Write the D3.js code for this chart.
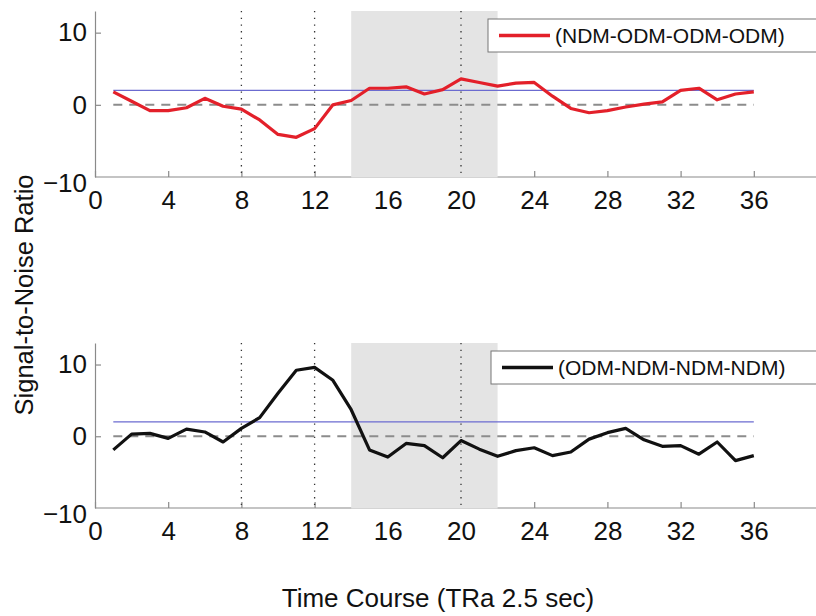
<!DOCTYPE html>
<html>
<head>
<meta charset="utf-8">
<script src="https://cdn.jsdelivr.net/npm/d3@7"></script>
<style>
  body { margin: 0; background: #fff; }
  svg { display: block; }
  .axis path, .axis line { stroke: #8a8a8a; stroke-width: 1.2; }
  .axis text { font-family: "Liberation Sans", Arial, sans-serif; font-size: 26px; fill: #111; }
</style>
</head>
<body>
<div class="graph"></div>
<script>
// time points (TR index)
const timePoints = [1, 2, 3, 4, 5, 6, 7, 8, 9, 10, 11, 12, 13, 14, 15, 16, 17, 18,
                    19, 20, 21, 22, 23, 24, 25, 26, 27, 28, 29, 30, 31, 32, 33, 34, 35, 36];

// SNR, NDM-ODM-ODM-ODM condition (top)
const snrTop = [1.8, 0.5, -0.8, -0.8, -0.4, 0.9, -0.2, -0.6, -2.1, -4.1, -4.5, -3.3,
                0.0, 0.6, 2.3, 2.3, 2.5, 1.5, 2.1, 3.6, 3.1, 2.6, 3.0, 3.1,
                1.2, -0.5, -1.1, -0.8, -0.3, 0.1, 0.4, 2.0, 2.3, 0.7, 1.5, 1.8];

// SNR, ODM-NDM-NDM-NDM condition (bottom)
const snrBottom = [-1.9, 0.3, 0.4, -0.3, 1.0, 0.6, -0.8, 1.1, 2.6, 6.0, 9.2, 9.6,
                   7.8, 3.7, -1.9, -2.9, -1.0, -1.3, -3.0, -0.6, -1.8, -2.8, -2.0, -1.6,
                   -2.7, -2.2, -0.4, 0.5, 1.1, -0.5, -1.4, -1.3, -2.5, -0.8, -3.4, -2.7];

const legendLabels = ["(NDM-ODM-ODM-ODM)", "(ODM-NDM-NDM-NDM)"];
const seriesColors = ["#e3202a", "#111111"];

const xTicks = [0, 4, 8, 12, 16, 20, 24, 28, 32, 36];
const yTicks = [-10, 0, 10];
const eventTimes = [8, 12, 20];
const shadedWindow = [14, 22];
const threshold = 2;
const xDomain = [0, 40];
const yDomain = [-10, 13];

const width = 816, height = 616;

const svg = d3.select(".graph").append("svg")
    .attr("width", width)
    .attr("height", height);

const x = d3.scaleLinear().domain(xDomain).range([95, 827]);

function panel(values, label, color, top, bottom, legendX) {
    const y = d3.scaleLinear().domain(yDomain).range([bottom, top]);
    const g = svg.append("g");

    // axes
    const xAxis = g.append("g")
        .attr("class", "axis")
        .attr("transform", "translate(0," + bottom + ")")
        .call(d3.axisBottom(x).tickValues(xTicks).tickSizeInner(-6).tickSizeOuter(0).tickPadding(14));
    xAxis.select(".domain").attr("d", "M" + x.range()[0] + ",0H" + x.range()[1]);

    const yAxis = g.append("g")
        .attr("class", "axis")
        .attr("transform", "translate(95,0)")
        .call(d3.axisLeft(y).tickValues(yTicks).tickSizeInner(-6).tickSizeOuter(0).tickPadding(8));
    yAxis.selectAll(".tick text").filter(d => d === -10).attr("dy", "0.55em");
    yAxis.selectAll(".tick line").filter(d => d === -10).remove();

    // stimulus window
    g.append("rect")
        .attr("x", x(shadedWindow[0]))
        .attr("y", y(yDomain[1]))
        .attr("width", x(shadedWindow[1]) - x(shadedWindow[0]))
        .attr("height", y(yDomain[0]) - y(yDomain[1]) + 0.5)
        .attr("fill", "#e4e4e4");

    // event markers
    g.selectAll(".event")
        .data(eventTimes)
        .enter().append("line")
        .attr("x1", d => x(d)).attr("x2", d => x(d))
        .attr("y1", y(yDomain[1])).attr("y2", y(yDomain[0]))
        .attr("stroke", "#333")
        .attr("stroke-width", 1.3)
        .attr("stroke-dasharray", "1.3,5.4");

    // zero line
    g.append("line")
        .attr("x1", x(timePoints[0])).attr("x2", x(timePoints[timePoints.length - 1]))
        .attr("y1", y(0)).attr("y2", y(0))
        .attr("stroke", "#8c8c8c")
        .attr("stroke-width", 2)
        .attr("stroke-dasharray", "9,7");

    // threshold line
    g.append("line")
        .attr("x1", x(timePoints[0])).attr("x2", x(timePoints[timePoints.length - 1]))
        .attr("y1", y(threshold)).attr("y2", y(threshold))
        .attr("stroke", "#6b6bd0")
        .attr("stroke-width", 1.1);

    // data line
    const line = d3.line()
        .x((d, i) => x(timePoints[i]))
        .y(d => y(d));

    g.append("path")
        .datum(values)
        .attr("fill", "none")
        .attr("stroke", color)
        .attr("stroke-width", 3.2)
        .attr("stroke-linejoin", "round")
        .attr("d", line);

    // legend
    const lg = g.append("g").attr("transform", "translate(" + legendX + "," + (top + 8) + ")");
    lg.append("rect")
        .attr("x", 0).attr("y", 0)
        .attr("width", 360).attr("height", 33)
        .attr("fill", "#fff")
        .attr("stroke", "#777")
        .attr("stroke-width", 1);
    lg.append("line")
        .attr("x1", 11).attr("x2", 62)
        .attr("y1", 16.5).attr("y2", 16.5)
        .attr("stroke", color)
        .attr("stroke-width", 3.4);
    lg.append("text")
        .attr("x", 67).attr("y", 24)
        .attr("font-family", "Liberation Sans, Arial, sans-serif")
        .attr("font-size", "21px")
        .attr("fill", "#111")
        .text(label);
}

panel(snrTop, legendLabels[0], seriesColors[0], 11, 177, 488);
panel(snrBottom, legendLabels[1], seriesColors[1], 343, 508, 491);

// axis titles
svg.append("text")
    .attr("transform", "translate(33,295) rotate(-90)")
    .attr("text-anchor", "middle")
    .attr("font-family", "Liberation Sans, Arial, sans-serif")
    .attr("font-size", "25.5px")
    .attr("fill", "#111")
    .text("Signal-to-Noise Ratio");

svg.append("text")
    .attr("x", 438).attr("y", 607)
    .attr("text-anchor", "middle")
    .attr("font-family", "Liberation Sans, Arial, sans-serif")
    .attr("font-size", "26px")
    .attr("fill", "#111")
    .text("Time Course (TRa 2.5 sec)");
</script>
</body>
</html>
